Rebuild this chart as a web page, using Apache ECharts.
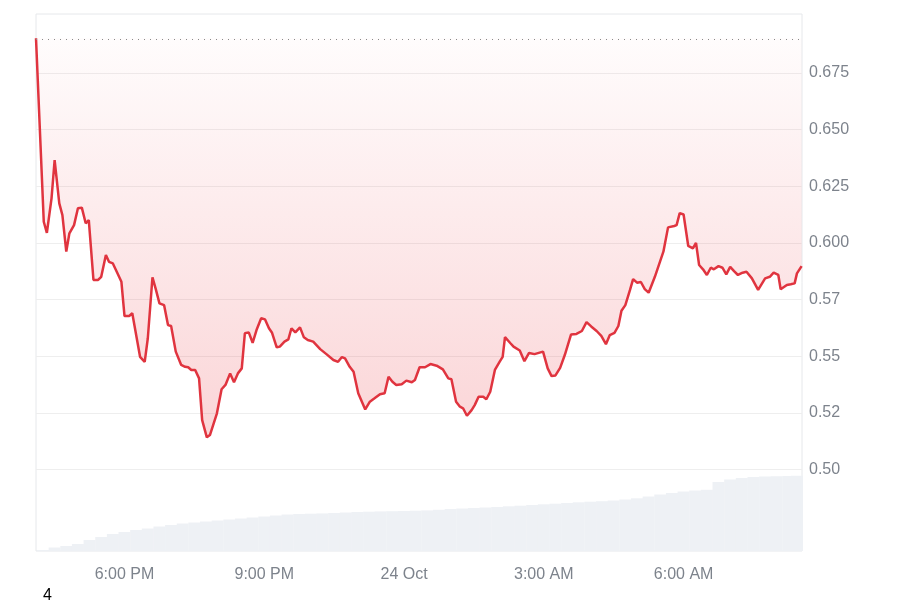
<!DOCTYPE html>
<html>
<head>
<meta charset="utf-8">
<script src="https://cdn.jsdelivr.net/npm/echarts@6/dist/echarts.min.js"></script>
<style>html,body{margin:0;padding:0;background:#fff}#c{width:900px;height:600px}</style>
</head>
<body>
<div id="c"></div>
<script>
// Price series (time of day; times from 12:00 onward are 23 Oct, earlier are 24 Oct)
const priceTimes = ['16:06','16:16','16:20','16:26','16:30','16:36','16:40','16:45','16:49','16:55',
'17:00','17:05','17:10','17:14','17:20','17:26','17:30','17:36','17:40','17:45','17:50','17:56',
'18:00','18:06','18:10','18:20','18:26','18:30','18:36','18:40','18:45','18:51','18:56',
'19:00','19:06','19:13','19:18','19:22','19:26','19:31','19:36','19:40','19:46','19:50','19:59',
'20:05','20:10','20:16','20:21','20:26','20:31','20:35','20:40','20:45','20:50','20:56',
'21:01','21:06','21:10','21:16','21:20','21:26','21:31','21:35','21:40','21:46','21:51','21:56',
'22:03','22:12','22:20','22:29','22:35','22:40','22:44','22:50','22:55',
'23:01','23:10','23:16','23:22','23:29','23:35','23:40','23:45','23:50','23:57',
'00:03','00:10','00:14','00:20','00:27','00:34','00:42','00:50','00:57',
'01:01','01:07','01:12','01:16','01:21','01:27','01:31','01:36','01:42','01:46','01:51','01:57',
'02:03','02:07','02:10','02:17','02:21','02:29','02:35','02:41','02:48','02:59',
'03:05','03:10','03:15','03:21','03:27','03:35','03:42','03:49','03:55',
'04:01','04:08','04:14','04:20','04:25','04:31','04:36','04:40','04:45','04:51','04:55',
'05:00','05:05','05:10','05:15','05:23','05:34','05:40','05:48','05:51','05:55',
'06:00','06:06','06:12','06:16','06:20','06:25','06:30','06:35','06:39','06:45','06:50','06:55',
'07:00','07:05','07:10','07:16','07:21','07:28','07:36','07:45','07:51','07:56',
'08:02','08:05','08:13','08:18','08:23','08:26','08:32'];
const prices = [0.6902,0.6093,0.6044,0.6196,0.6365,0.6174,0.6122,0.5961,0.6042,0.6078,
0.6152,0.6155,0.6086,0.6100,0.5836,0.5836,0.5850,0.5946,0.5916,0.5909,0.5872,0.5828,
0.5677,0.5677,0.5689,0.5497,0.5475,0.5579,0.5848,0.5799,0.5733,0.5725,0.5637,
0.5633,0.5520,0.5461,0.5453,0.5451,0.5439,0.5439,0.5402,0.5218,0.5142,0.5152,0.5248,
0.5354,0.5373,0.5424,0.5385,0.5424,0.5446,0.5601,0.5605,0.5559,0.5615,0.5667,
0.5662,0.5623,0.5603,0.5539,0.5542,0.5564,0.5574,0.5623,0.5605,0.5627,0.5583,0.5571,
0.5564,0.5531,0.5509,0.5483,0.5475,0.5496,0.5490,0.5453,0.5431,
0.5336,0.5265,0.5299,0.5314,0.5332,0.5336,0.5409,0.5387,0.5373,0.5376,
0.5392,0.5385,0.5395,0.5451,0.5451,0.5465,0.5458,0.5442,0.5402,
0.5398,0.5299,0.5277,0.5270,0.5237,0.5262,0.5284,0.5321,0.5321,0.5310,0.5343,0.5439,
0.5475,0.5497,0.5584,0.5557,0.5542,0.5525,0.5478,0.5514,0.5509,0.5520,
0.5446,0.5412,0.5415,0.5448,0.5505,0.5595,0.5598,0.5611,0.5650,
0.5631,0.5611,0.5589,0.5553,0.5593,0.5603,0.5633,0.5700,0.5725,0.5792,0.5840,
0.5824,0.5827,0.5796,0.5780,0.5850,0.5961,0.6068,0.6074,0.6078,0.6131,
0.6125,0.5986,0.5975,0.6000,0.5902,0.5883,0.5858,0.5890,0.5883,0.5897,0.5890,0.5861,
0.5894,0.5875,0.5858,0.5868,0.5872,0.5843,0.5792,0.5843,0.5850,0.5868,
0.5858,0.5795,0.5814,0.5817,0.5821,0.5865,0.5897];

// Volume bars (15-minute buckets)
const volumeTimes = ['16:15','16:30','16:45','17:00','17:15','17:30','17:45',
'18:00','18:15','18:30','18:45','19:00','19:15','19:30','19:45','20:00','20:15','20:30','20:45',
'21:00','21:15','21:30','21:45','22:00','22:15','22:30','22:45','23:00','23:15','23:30','23:45',
'00:00','00:15','00:30','00:45','01:00','01:15','01:30','01:45','02:00','02:15','02:30','02:45',
'03:00','03:15','03:30','03:45','04:00','04:15','04:30','04:45','05:00','05:15','05:30','05:45',
'06:00','06:15','06:30','06:45','07:00','07:15','07:30','07:45','08:00','08:15','08:26'];
const volumes = [1,3.5,5,7,11,14,17,
19,21,22.5,24.5,26,27.5,28.5,29.5,30.5,31.5,32.5,33.5,
34.5,35.5,36.5,37,37.3,37.6,38,38.5,39,39.3,39.6,39.8,
40,40.3,40.6,41.2,42,42.5,43,43.5,44,44.7,45.3,46,
46.7,47.3,48,48.7,49.3,49.8,50.5,51.5,52.7,54.5,56.5,58,
59.5,60.5,61.2,69,71.5,73,74,74.5,74.8,75,75.3];

// Axis ticks
const yTickValues = [0.5,0.525,0.55,0.575,0.6,0.625,0.65,0.675];
const yTickLabels = ['0.50','0.52','0.55','0.57','0.600','0.625','0.650','0.675'];
const xTickTimes = ['18:00','21:00','00:00','03:00','06:00'];
const xTickLabels = ['6:00 PM','9:00 PM','24 Oct','3:00 AM','6:00 AM'];
const xStart = '16:06', xEnd = '08:32:30';

// minutes since 23 Oct 00:00
function toMin(hm){
  const p = hm.split(':').map(Number);
  const dayOffset = p[0] >= 12 ? 0 : 1440;
  return dayOffset + p[0]*60 + p[1] + (p[2]||0)/60;
}
const xTickPos = xTickTimes.map(toMin);
const priceData = priceTimes.map((t,i)=>[toMin(t), prices[i]]);
const volData = volumeTimes.map((t,i)=>[toMin(t), volumes[i]]);
const xMin = toMin(xStart), xMax = toMin(xEnd);

const chart = echarts.init(document.getElementById('c'), null, {renderer:'canvas'});
const font = '"Liberation Sans", Arial, Helvetica, sans-serif';
chart.setOption({
  animation:false,
  backgroundColor:'#ffffff',
  title:{text:'4', left:38, top:583, textStyle:{color:'#000', fontSize:16, fontWeight:'normal', fontFamily:font}},
  grid:[
    {left:36, right:98, top:16.1, height:453.4},
    {left:36, right:98, top:469.5, height:81.5},
    {left:36, right:98, top:14, height:537, show:true, borderColor:'#e6e8eb', borderWidth:1, backgroundColor:'rgba(0,0,0,0)'}
  ],
  xAxis:[
    {gridIndex:0, type:'value', min:xMin, max:xMax, show:false},
    {gridIndex:1, type:'value', min:xMin, max:xMax,
      axisLine:{show:false}, axisTick:{show:false}, splitLine:{show:false},
      axisLabel:{customValues:xTickPos, color:'#7d838c', fontSize:16, fontFamily:font, margin:16,
        formatter:function(v){ for(let i=0;i<xTickPos.length;i++){ if(Math.abs(v-xTickPos[i])<1e-6) return xTickLabels[i]; } return ''; }}},
    {gridIndex:2, type:'value', show:false}
  ],
  yAxis:[
    {gridIndex:0, type:'value', min:0.5, max:0.7, interval:0.025, position:'right',
      axisLine:{show:false}, axisTick:{show:false},
      splitLine:{show:true, showMaxLine:false, lineStyle:{color:'#eeeeee', width:1}},
      axisLabel:{showMaxLabel:false, color:'#7d838c', fontSize:16, fontFamily:font, margin:7,
        formatter:function(v){ for(let i=0;i<yTickValues.length;i++){ if(Math.abs(v-yTickValues[i])<1e-9) return yTickLabels[i]; } return ''; }}},
    {gridIndex:1, type:'value', min:0, max:81.5, show:false},
    {gridIndex:2, type:'value', show:false}
  ],
  series:[
    {type:'bar', xAxisIndex:1, yAxisIndex:1, data:volData, barWidth:12, clip:true,
      itemStyle:{color:'#eef1f5'}, silent:true},
    {type:'line', xAxisIndex:0, yAxisIndex:0, data:priceData, showSymbol:false, symbol:'none',
      lineStyle:{color:'#e0343f', width:2.5}, z:3,
      areaStyle:{origin:prices[0], color:new echarts.graphic.LinearGradient(0,0,0,1,[
        {offset:0, color:'rgba(234,57,67,0.02)'},
        {offset:1, color:'rgba(234,57,67,0.30)'}])},
      markLine:{silent:true, symbol:['none','none'], label:{show:false},
        lineStyle:{color:'#8a8a8a', type:[1,5], width:1},
        data:[{yAxis:prices[0]}]}}
  ]
});
</script>
</body>
</html>
